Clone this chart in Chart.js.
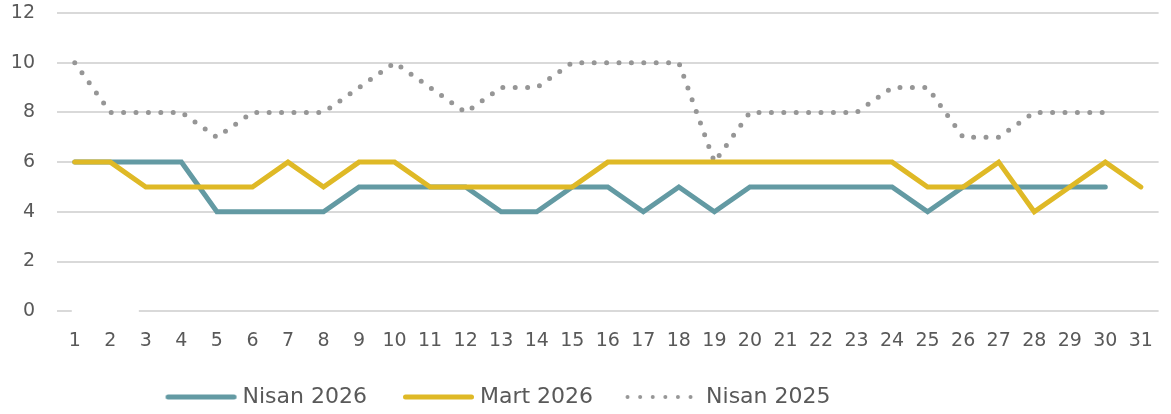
<!DOCTYPE html>
<html>
<head>
<meta charset="utf-8">
<script src="https://cdn.jsdelivr.net/npm/chart.js@4"></script>
<style>
  html, body { margin: 0; padding: 0; background: #fff; }
  #wrap { width: 1171px; height: 414px; }
</style>
</head>
<body>
<div id="wrap"><canvas id="dailyChart"></canvas></div>
<script>
const days = ['1','2','3','4','5','6','7','8','9','10','11','12','13','14','15','16',
              '17','18','19','20','21','22','23','24','25','26','27','28','29','30','31'];

const nisan2026 = [6, 6, 6, 6, 4, 4, 4, 4, 5, 5, 5, 5, 4, 4, 5, 5,
                   4, 5, 4, 5, 5, 5, 5, 5, 4, 5, 5, 5, 5, 5, null];
const mart2026  = [6, 6, 5, 5, 5, 5, 6, 5, 6, 6, 5, 5, 5, 5, 5, 6,
                   6, 6, 6, 6, 6, 6, 6, 6, 5, 5, 6, 4, 5, 6, 5];
const nisan2025 = [10, 8, 8, 8, 7, 8, 8, 8, 9, 10, 9, 8, 9, 9, 10, 10,
                   10, 10, 6, 8, 8, 8, 8, 9, 9, 7, 7, 8, 8, 8, null];

const textColor = '#595959';
const tickFont = { family: '"DejaVu Sans", sans-serif', size: 19 };

// legend line samples, drawn as images (pointStyle 'line' drops the dash);
// the line sits at the right end of the box so it ends close to the text
function legendSample(color, dash, width, from, to) {
    const c = document.createElement('canvas');
    c.width = 110;
    c.height = 8;
    const g = c.getContext('2d');
    g.strokeStyle = color;
    g.lineWidth = width;
    g.lineCap = 'round';
    g.setLineDash(dash);
    g.beginPath();
    g.moveTo(from, 4);
    g.lineTo(to, 4);
    g.stroke();
    return c;
}

// the reference has a short break in the zero line near the first days
const zeroLineGap = {
    id: 'zeroLineGap',
    afterDraw(chart) {
        const x = chart.scales.x, y = chart.scales.y;
        const c = chart.ctx;
        const y0 = y.getPixelForValue(0);
        const x1 = x.getPixelForValue(0) - 3;
        const x2 = x.getPixelForValue(2) - 7;
        c.save();
        c.fillStyle = '#fff';
        c.fillRect(x1, y0 - 3, x2 - x1, 6);
        c.restore();
    }
};

// legend in the reference sits left of centre
const legendShift = {
    id: 'legendShift',
    afterLayout(chart) {
        if (chart.legend) chart.legend.right -= 198;
    }
};

const ctx = document.getElementById('dailyChart').getContext('2d');

window.dailyChartInstance = new Chart(ctx, {
    type: 'line',
    data: {
        labels: days,
        datasets: [{
            label: 'Nisan 2026',
            data: nisan2026,
            borderColor: '#639aa3',
            backgroundColor: '#639aa3',
            borderWidth: 5,
            borderCapStyle: 'round',
            pointRadius: 0,
            pointStyle: legendSample('#639aa3', [], 5, 34.5, 100.5),
            order: 2
        }, {
            label: 'Mart 2026',
            data: mart2026,
            borderColor: '#dfb926',
            backgroundColor: '#dfb926',
            borderWidth: 5,
            borderCapStyle: 'round',
            pointRadius: 0,
            pointStyle: legendSample('#dfb926', [], 5, 34.5, 100.5),
            order: 1
        }, {
            label: 'Nisan 2025',
            data: nisan2025,
            borderColor: '#969696',
            backgroundColor: '#969696',
            borderWidth: 5,
            borderCapStyle: 'round',
            borderDash: [0, 12.4],
            pointRadius: 0,
            pointStyle: legendSample('#969696', [0, 12.6], 4, 30.5, 96),
            order: 3
        }]
    },
    options: {
        responsive: true,
        maintainAspectRatio: false,
        animation: false,
        layout: { padding: { left: 8, right: 5, top: 0, bottom: -4 } },
        scales: {
            x: {
                offset: true,
                grid: { display: false, drawTicks: false },
                border: { display: false },
                ticks: { color: textColor, font: tickFont, padding: 18, maxRotation: 0, autoSkip: false }
            },
            y: {
                min: 0,
                max: 12,
                grid: { color: '#d9d9d9', lineWidth: 2, drawTicks: false },
                border: { display: false },
                ticks: { stepSize: 2, color: textColor, font: tickFont, padding: 22 },
                afterFit: function (scale) {
                    scale.width = 49;
                    scale.paddingTop = 13;
                    scale.paddingBottom = 12;
                }
            }
        },
        plugins: {
            tooltip: { enabled: false },
            legend: {
                position: 'bottom',
                labels: {
                    color: textColor,
                    font: { family: '"DejaVu Sans", sans-serif', size: 22 },
                    usePointStyle: true,
                    pointStyleWidth: 86,
                    padding: 16,
                    sort: function (a, b) { return a.datasetIndex - b.datasetIndex; }
                }
            }
        }
    },
    plugins: [zeroLineGap, legendShift]
});
</script>
</body>
</html>
